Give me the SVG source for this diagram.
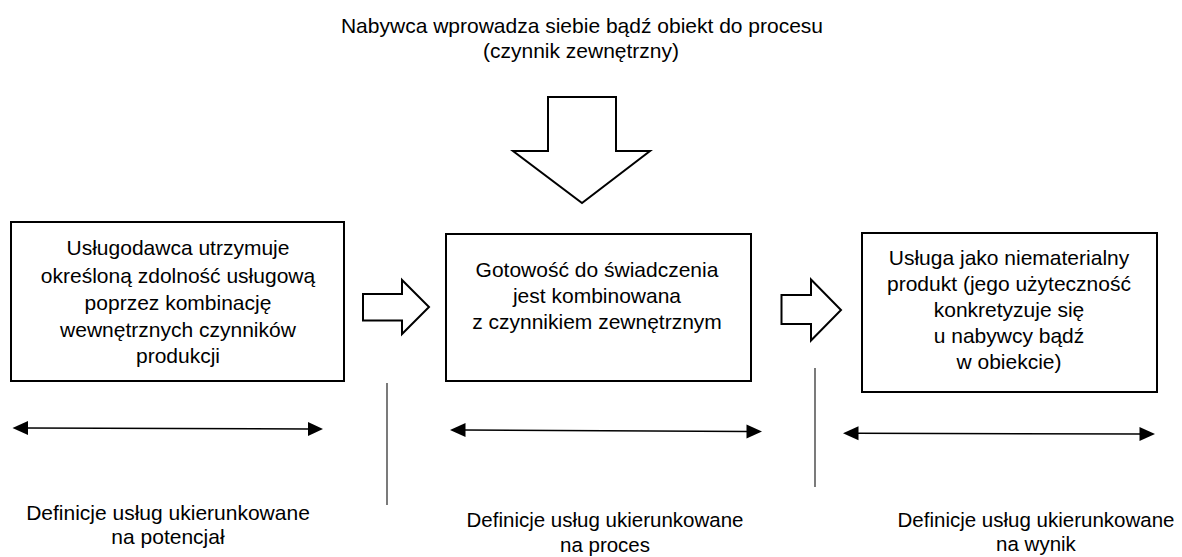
<svg xmlns="http://www.w3.org/2000/svg" width="1182" height="557" viewBox="0 0 1182 557">
<style>
.box{fill:#fff;stroke:#000;stroke-width:2}
.blk{fill:#fff;stroke:#000;stroke-width:2;stroke-linejoin:miter}
.t{font-family:"Liberation Sans",Arial,sans-serif;font-size:21px;fill:#000;text-anchor:middle}
.l{font-family:"Liberation Sans",Arial,sans-serif;font-size:20.5px;fill:#000;text-anchor:middle}
.dl{stroke:#000;stroke-width:1.5;fill:none}
.vl{stroke:#333;stroke-width:1.3;fill:none}
.hd{fill:#000}
</style>
<rect width="1182" height="557" fill="#fff"/>
<g id="title">
<text class="t" x="582" y="32.5">Nabywca wprowadza siebie bądź obiekt do procesu</text>
<text class="t" x="581" y="57.5">(czynnik zewnętrzny)</text>
</g>
<g id="node1">
<rect class="box" x="11" y="222" width="333" height="159"/>
<text class="t" x="178" y="255">Usługodawca utrzymuje</text>
<text class="t" x="178" y="282.5">określoną zdolność usługową</text>
<text class="t" x="178" y="309.5">poprzez kombinację</text>
<text class="t" x="178" y="336.5">wewnętrznych czynników</text>
<text class="t" x="178" y="363">produkcji</text>
</g>
<g id="node2">
<rect class="box" x="446" y="234" width="305" height="147"/>
<text class="t" x="597" y="276.5">Gotowość do świadczenia</text>
<text class="t" x="597" y="302.5">jest kombinowana</text>
<text class="t" x="597" y="329">z czynnikiem zewnętrznym</text>
</g>
<g id="node3">
<rect class="box" x="862" y="233" width="295" height="159"/>
<text class="t" x="1009" y="265">Usługa jako niematerialny</text>
<text class="t" x="1009" y="291">produkt (jego użyteczność</text>
<text class="t" x="1009" y="316.5">konkretyzuje się</text>
<text class="t" x="1009" y="343">u nabywcy bądź</text>
<text class="t" x="1009" y="369">w obiekcie)</text>
</g>
<g id="labels">
<text class="l" x="168" y="519.5" style="font-size:21px">Definicje usług ukierunkowane</text>
<text class="l" x="168" y="544" style="font-size:21px">na potencjał</text>
<text class="l" x="605" y="526.5">Definicje usług ukierunkowane</text>
<text class="l" x="605" y="551.5">na proces</text>
<text class="l" x="1036" y="527">Definicje usług ukierunkowane</text>
<text class="l" x="1036" y="551">na wynik</text>
</g>
<g id="connectors">
<polygon class="blk" points="548,97 616,97 616,151 650,151 582,203 513,151 548,151"/>
<polygon class="blk" points="363,294 402,294 402,280 429,307 402,334 402,320.5 363,320.5"/>
<polygon class="blk" points="781.5,295 811,295 811,279.5 841,310 811,340.5 811,324 781.5,324"/>
<line class="vl" x1="387" y1="383" x2="387" y2="505"/>
<line class="vl" x1="815" y1="368" x2="815" y2="487"/>
<line class="dl" x1="26" y1="428" x2="309" y2="429"/>
<polygon class="hd" points="12.5,428 28,421 28,435"/>
<polygon class="hd" points="323,429 308,422 308,436"/>
<line class="dl" x1="464" y1="430" x2="747" y2="431.5"/>
<polygon class="hd" points="450,430 465.5,423 465.5,437"/>
<polygon class="hd" points="762,431.5 746.5,424.5 746.5,438.5"/>
<line class="dl" x1="857" y1="433.3" x2="1141" y2="434"/>
<polygon class="hd" points="843,433.3 858.5,426.3 858.5,440.3"/>
<polygon class="hd" points="1155,434 1139.5,427 1139.5,441"/>
</g>
</svg>
